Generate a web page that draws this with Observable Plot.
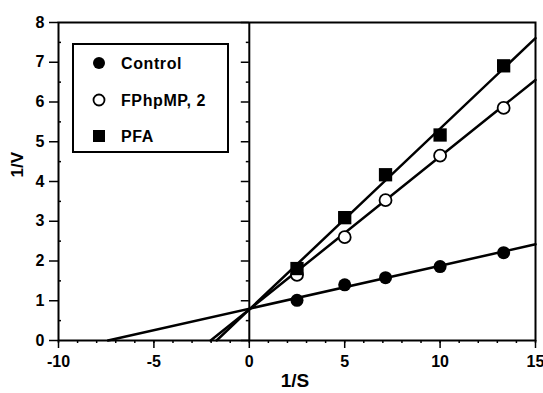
<!DOCTYPE html>
<html><head><meta charset="utf-8">
<script src="https://cdn.jsdelivr.net/npm/d3@7"></script>
<script src="https://cdn.jsdelivr.net/npm/@observablehq/plot@0.6"></script>
<style>body{margin:0;background:#fff} #chart{width:543px;height:393px}</style>
</head><body><div id="chart"></div>
<script>
const xTicks = [-10, -5, 0, 5, 10, 15];
const yTicks = [0, 1, 2, 3, 4, 5, 6, 7, 8];
const xMinorTicks = [-10,-9,-8,-7,-6,-5,-4,-3,-2,-1,0,1,2,3,4,5,6,7,8,9,10,11,12,13,14,15];
const yMinorTicks = [0.5, 1.5, 2.5, 3.5, 4.5, 5.5, 6.5, 7.5];
const xDomain = [-10, 15];
const yDomain = [0, 8];

const recipS = [2.5, 5, 7.14, 10, 13.33];
const controlV = [1.01, 1.40, 1.58, 1.86, 2.21];
const fphpmpV = [1.65, 2.60, 3.53, 4.65, 5.85];
const pfaV = [1.81, 3.09, 4.17, 5.17, 6.91];

const seriesNames = ["Control", "FPhpMP, 2", "PFA"];
const fitIntercepts = [0.80, 0.78, 0.78];
const fitSlopes = [0.108, 0.385, 0.455];

const seriesValues = [controlV, fphpmpV, pfaV];
const points = seriesValues.map((vals, i) => recipS.map((x, j) => ({series: seriesNames[i], x, y: vals[j]})));

const fitLines = seriesNames.flatMap((name, i) => {
  const b = fitIntercepts[i], m = fitSlopes[i];
  const x0 = Math.max(xDomain[0], -b / m);
  const x1 = xDomain[1];
  return [{series: name, x: x0, y: b + m * x0}, {series: name, x: x1, y: b + m * x1}];
});

const font = "'Liberation Sans', Arial, Helvetica, sans-serif";

const plot = Plot.plot({
  width: 543,
  height: 393,
  marginLeft: 58,
  marginRight: 8,
  marginTop: 22,
  marginBottom: 53,
  style: {fontFamily: font, fontSize: "16px", fontWeight: "bold", background: "#fff", color: "#000"},
  x: {domain: xDomain},
  y: {domain: yDomain},
  marks: [
    Plot.ruleX([0], {stroke: "#000", strokeWidth: 2}),
    Plot.ruleY(yTicks, {x1: 0, x2: 0, insetLeft: -8, stroke: "#000", strokeWidth: 1.5}),
    Plot.ruleY(yMinorTicks, {x1: 0, x2: 0, insetLeft: -3, stroke: "#000", strokeWidth: 1.5}),
    Plot.ruleY(yMinorTicks, {x1: xDomain[0], x2: xDomain[0], insetRight: -3, stroke: "#000", strokeWidth: 1.5}),
    Plot.line(fitLines, {x: "x", y: "y", z: "series", stroke: "#000", strokeWidth: 2.5}),
    Plot.dot(points[0], {x: "x", y: "y", r: 6.5, fill: "#000", stroke: "none"}),
    Plot.dot(points[1], {x: "x", y: "y", r: 6, fill: "#fff", stroke: "#000", strokeWidth: 1.8}),
    Plot.dot(points[2], {x: "x", y: "y", r: 7.5, symbol: "square", fill: "#000", stroke: "none"}),
    Plot.frame({stroke: "#000", strokeWidth: 2}),
    Plot.axisX({ticks: xMinorTicks, tickSize: 3, tickFormat: () => "", label: null, strokeWidth: 1.5}),
    Plot.axisX({ticks: xTicks, tickSize: 8, tickPadding: 7, tickFormat: d => String(d), label: null, strokeWidth: 1.5, fontSize: 16}),
    Plot.axisY({ticks: yTicks, tickSize: 9, tickPadding: 5, tickFormat: d => String(d), label: null, strokeWidth: 1.5, fontSize: 16}),
    Plot.text(["1/S"], {frameAnchor: "bottom", dy: 46, dx: -2, fontSize: 19, fontWeight: "bold"}),
    Plot.text(["1/V"], {frameAnchor: "left", dx: -41, dy: -4, rotate: -90, fontSize: 17, fontWeight: "bold"})
  ]
});

document.getElementById("chart").appendChild(plot);

// Legend drawn inside the plot area
const svg = d3.select(plot);
const lg = svg.append("g").attr("class", "legend").attr("text-anchor", "start");
lg.append("rect").attr("x", 73).attr("y", 44).attr("width", 155).attr("height", 108)
  .attr("fill", "#fff").attr("stroke", "#000").attr("stroke-width", 2);
const rowY = [63, 100, 136];
seriesNames.forEach((name, i) => {
  const cy = rowY[i];
  if (i === 0) lg.append("circle").attr("cx", 99).attr("cy", cy).attr("r", 6).attr("fill", "#000");
  else if (i === 1) lg.append("circle").attr("cx", 99).attr("cy", cy).attr("r", 5.5).attr("fill", "#fff").attr("stroke", "#000").attr("stroke-width", 1.8);
  else lg.append("rect").attr("x", 93).attr("y", cy - 6).attr("width", 12).attr("height", 12).attr("fill", "#000");
  lg.append("text").attr("x", 121).attr("y", cy).attr("dy", "0.35em")
    .attr("text-anchor", "start")
    .attr("font-family", font).attr("font-size", 16).attr("font-weight", "bold")
    .attr("letter-spacing", "0.6px").attr("fill", "#000").text(name);
});
</script>
</body></html>
